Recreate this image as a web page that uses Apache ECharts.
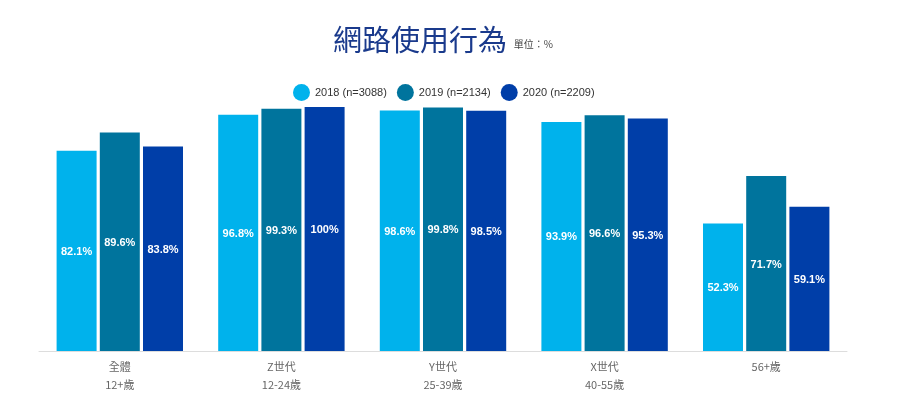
<!DOCTYPE html>
<html>
<head>
<meta charset="utf-8">
<script src="https://cdn.jsdelivr.net/npm/echarts@6/dist/echarts.min.js"></script>
<style>
html, body { margin: 0; padding: 0; background: #fff; }
#echart { width: 900px; height: 397px; }
</style>
</head>
<body>
<div id="echart"></div>
<script>
var categories = ['全體\n12+歲', 'Z世代\n12-24歲', 'Y世代\n25-39歲', 'X世代\n40-55歲', '56+歲'];
var seriesNames = ['2018 (n=3088)', '2019 (n=2134)', '2020 (n=2209)'];
var data2018 = [82.1, 96.8, 98.6, 93.9, 52.3];
var data2019 = [89.6, 99.3, 99.8, 96.6, 71.7];
var data2020 = [83.8, 100, 98.5, 95.3, 59.1];
var colors = ['#00b2ec', '#00749d', '#003ea8'];

var myChart = echarts.init(document.getElementById("echart"));

function makeSeries(name, data, color) {
    return {
        name: name,
        type: 'bar',
        data: data,
        barWidth: 40,
        barGap: '8%',
        itemStyle: { color: color },
        label: {
            show: true,
            position: 'inside',
            color: '#fff',
            fontSize: 11,
            fontWeight: 'bold',
            fontFamily: 'Arial, "Liberation Sans", sans-serif',
            offset: [0, 1],
            formatter: function (p) { return p.value + '%'; }
        }
    };
}

option = {
    animation: false,
    textStyle: { fontFamily: 'Arial, "Liberation Sans", "Noto Sans CJK TC", sans-serif' },
    title: {
        text: '{a|網路使用行為}{b|   單位：%}',
        left: 328,
        top: 20,
        textStyle: {
            rich: {
                a: { fontSize: 29, fontWeight: 'normal', color: '#1a3a8c', fontFamily: '"Noto Sans CJK TC", sans-serif' },
                b: { fontSize: 10, fontWeight: 'normal', color: '#444', fontFamily: '"Noto Sans CJK TC", sans-serif', padding: [10, 0, 0, 0] }
            }
        }
    },
    legend: {
        data: seriesNames,
        top: 79,
        left: 288,
        icon: 'circle',
        itemWidth: 17,
        itemHeight: 17,
        itemGap: 10,
        textStyle: { fontSize: 11, color: '#333' }
    },
    color: colors,
    grid: { left: 39, right: 53, top: 107, bottom: 46 },
    xAxis: {
        type: 'category',
        data: categories,
        axisLine: { lineStyle: { color: '#dddddd' } },
        axisTick: { show: false },
        axisLabel: { color: '#666', fontSize: 11, lineHeight: 18, margin: 7, fontFamily: '"Noto Sans CJK TC", sans-serif' }
    },
    yAxis: {
        type: 'value',
        min: 0,
        max: 100,
        show: false,
        splitLine: { show: false }
    },
    series: [
        makeSeries(seriesNames[0], data2018, colors[0]),
        makeSeries(seriesNames[1], data2019, colors[1]),
        makeSeries(seriesNames[2], data2020, colors[2])
    ]
};

myChart.setOption(option);
</script>
</body>
</html>
